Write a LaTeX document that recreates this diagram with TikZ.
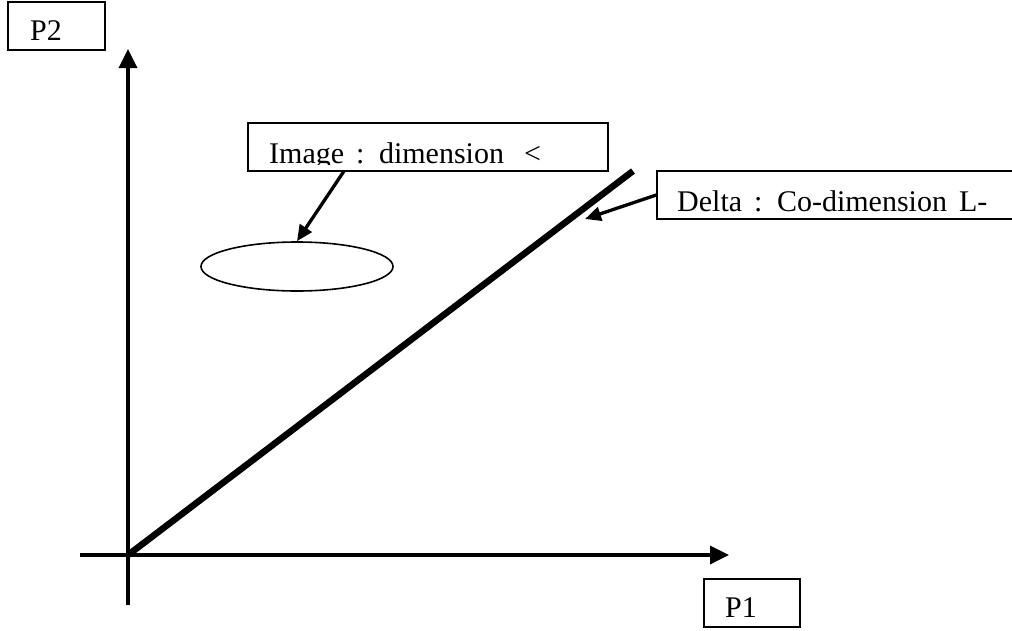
\documentclass[tikz,border=0pt]{standalone}
\usepackage{fontspec}
\setmainfont{Liberation Serif}
\usetikzlibrary{arrows.meta,calc,shapes.geometric}
\newcommand\mylblfont{\fontsize{30}{36}\selectfont\spaceskip 12pt\relax}
\begin{document}
\begin{tikzpicture}[x=1pt,y=-1pt,
  boxstyle/.style={draw,line width=1.5pt,inner sep=0pt,minimum width=#1,minimum height=48pt},
  lbl/.style={anchor=base west,inner sep=0pt,font=\mylblfont},
  axis/.style={line width=3.5pt,-{Triangle[length=19pt,width=18pt]}},
  callout/.style={line width=3.3pt,-{Triangle[length=16pt,width=14pt]}},
  diag/.style={line width=6.5pt}]
\useasboundingbox (0,0) rectangle (1012,630);
\clip (0,0) rectangle (1012,630);
% axes
\coordinate (O) at (128,555);
\coordinate (xs) at (80,555);
\coordinate (xe) at (729,555);
\coordinate (ys) at (128,605);
\coordinate (ye) at (128,49);
\coordinate (dend) at (633,171);
\draw[axis] (xs) -- (xe);
\draw[axis] (ys) -- (ye);
\draw[diag] (O) -- (dend);
% boxes
\node[boxstyle=97pt] (p2box) at (56.5,26) {};
\node[lbl] (p2) at (30,40) {P2};
\node[boxstyle=96pt] (p1box) at (752,603) {};
\node[lbl] (p1) at (725,617) {P1};
\node[boxstyle=360pt] (imgbox) at (428,147) {};
\begin{scope}
  \clip (248,123) rectangle (608,164);
  \node[lbl] (imgtxt) at (269,163) {Image : dimension\hspace{20pt}<};
\end{scope}
\node[boxstyle=380pt] (delbox) at (847,195) {};
\begin{scope}
  \clip (657,171) rectangle (1012,213);
  \node[lbl] (deltxt) at (677,211) {Delta : Co-dimension L-};
\end{scope}
% ellipse
\node[draw,ellipse,line width=1.6pt,minimum width=192pt,minimum height=49pt,inner sep=0pt] (ell) at (297,266.5) {};
% callouts
\coordinate (istart) at ($(imgbox.south west)+(97,-1)$);
\coordinate (dtip) at (585,219);
\draw[callout] (istart) -- (ell.north);
\draw[callout] (delbox.west) -- (dtip);
\end{tikzpicture}
\end{document}
